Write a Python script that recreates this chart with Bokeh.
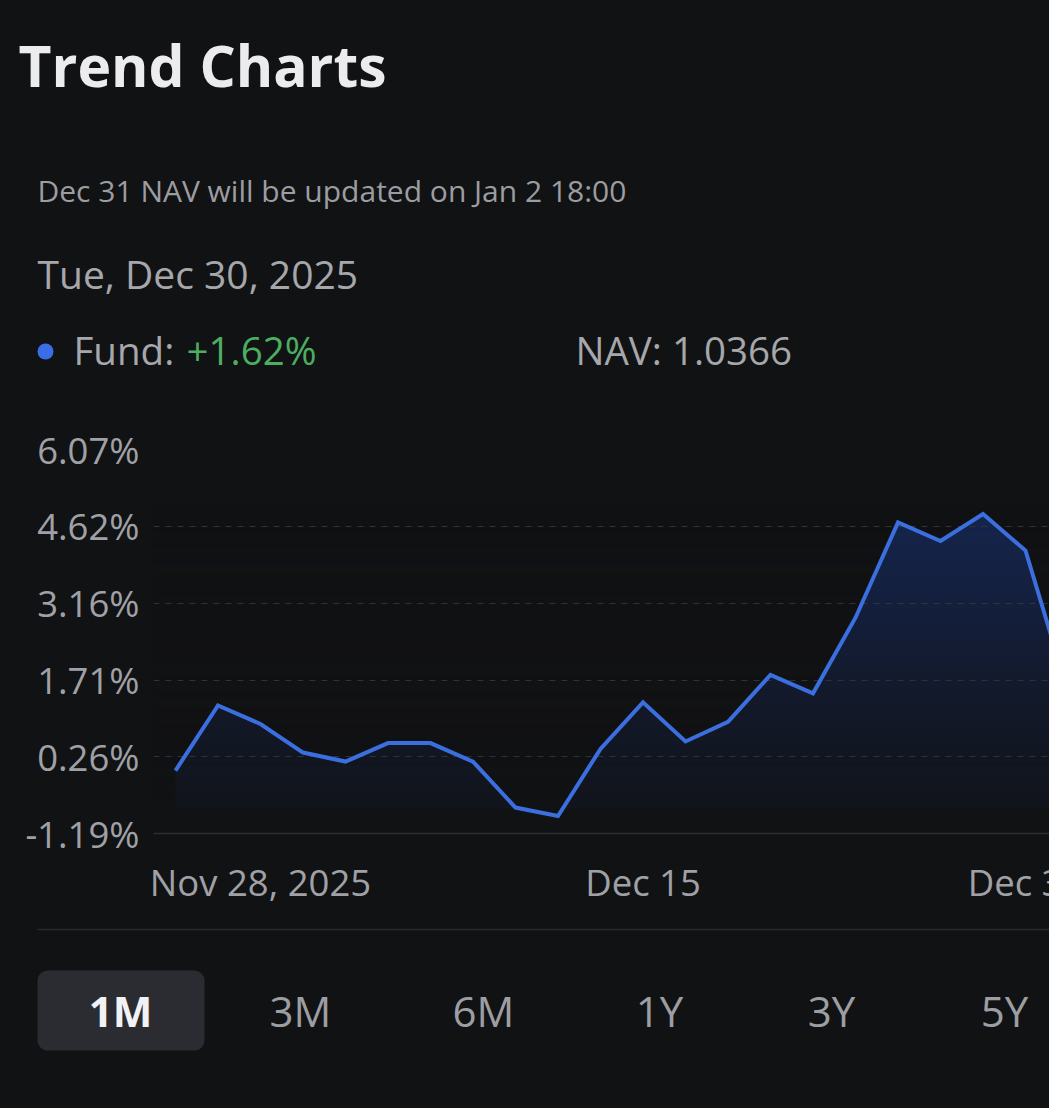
###
# Fund trend chart (1M view), dark mobile style
###
from bokeh.embed import file_html
from bokeh.layouts import column
from bokeh.models import BoxAnnotation, FixedTicker, Label, PrintfTickFormatter, Range1d
from bokeh.plotting import figure
from bokeh.resources import INLINE
from jinja2 import Template

TITLE = "Trend Charts"
NOTICE = "Dec 31 NAV will be updated on Jan 2 18:00"
DATE_TEXT = "Tue, Dec 30, 2025"
FUND_LABEL = "Fund:"
FUND_CHANGE = "+1.62%"
NAV_TEXT = "NAV: 1.0366"
PERIODS = ["1M", "3M", "6M", "1Y", "3Y", "5Y"]

# cumulative return (%) per trading day since Nov 28
FUND_RETURNS = [0.00, 1.23, 0.88, 0.34, 0.17, 0.52, 0.52, 0.17, -0.70, -0.86, 0.41, 1.29,
                0.55, 0.92, 1.81, 1.46, 2.89, 4.69, 4.34, 4.85, 4.16, 1.49, 1.62]
Y_TICKS = [-1.19, 0.26, 1.71, 3.16, 4.62, 6.07]
X_TICKS = [2, 11, 20]
X_TICK_LABELS = ["Nov 28, 2025", "Dec 15", "Dec 30"]

BG = "#111214"
BLUE = "#3b6fe0"
FILL_TOP = "#16264f"
GRID = "#303237"
TEXT = "#a6a7ab"
TICK = "#a0a1a6"
GREEN = "#4cae61"
FONT = "Open Sans"

W = 1049
HEAD_H, CHART_TOP, CHART_BOTTOM = 420, 449, 833
FOOT_TOP = 920
OVERHANG = 60  # chart runs past the right edge of the screen


def panel(height):
    # a plain canvas whose data coords are pixels from its top-left corner
    f = figure(width=W, height=height, output_backend="svg", toolbar_location=None,
               x_range=Range1d(0, W), y_range=Range1d(height, 0),
               x_axis_type=None, y_axis_type=None, min_border=0, frame_align=False,
               background_fill_color=BG, border_fill_color=BG, outline_line_color=None)
    f.grid.visible = False
    return f


def add_text(f, text, x, y, size, color, bold=False, align="left"):
    # y is the baseline; bokeh puts the line box bottom there, so lift by the descent
    f.add_layout(Label(x=x, y=y - 0.41 * size, text=text, text_font=FONT,
                       text_font_size=f"{size}px", text_color=color,
                       text_font_style="bold" if bold else "normal",
                       text_align=align, text_baseline="alphabetic"))


# ---- header ----
head = panel(HEAD_H)
add_text(head, TITLE, 18, 88, 57, "#ececee", bold=True)
add_text(head, NOTICE, 37, 202, 30, "#9c9da1")
add_text(head, DATE_TEXT, 37, 289, 39, TEXT)
head.scatter(x=[45], y=[351], size=16, marker="circle", fill_color="#3a6ee8", line_color=None)
add_text(head, FUND_LABEL, 73, 365, 38.5, TEXT)
add_text(head, FUND_CHANGE, 186, 365, 38.5, GREEN)
add_text(head, NAV_TEXT, 575, 365, 38.5, TEXT)

# ---- chart ----
p = figure(frame_width=896 + OVERHANG, frame_height=CHART_BOTTOM - CHART_TOP, output_backend="svg",
           toolbar_location=None, frame_align=False,
           x_range=Range1d(-22 / 42.5, (874 + OVERHANG) / 42.5),
           y_range=Range1d(Y_TICKS[0], Y_TICKS[-1]),
           min_border_left=153, min_border_right=0, min_border_top=CHART_TOP - HEAD_H,
           min_border_bottom=FOOT_TOP - CHART_BOTTOM,
           background_fill_color=BG, border_fill_color=BG, outline_line_color=None)

idx = list(range(len(FUND_RETURNS)))

# area under the curve, faded towards the bottom with background-coloured bands
p.varea(x=idx, y1=Y_TICKS[0], y2=FUND_RETURNS, fill_color=FILL_TOP, level="image")
fade_top, fade_bottom, steps = 5.0, -0.7, 150
step = (fade_top - fade_bottom) / steps
bottoms = [Y_TICKS[0]] + [fade_bottom + i * step for i in range(steps)]
tops = [fade_bottom] + [fade_bottom + (i + 1) * step for i in range(steps)]
alphas = [1.0] + [1.0 - (i + 0.5) / steps for i in range(steps)]
p.quad(left=p.x_range.start, right=p.x_range.end, bottom=bottoms, top=tops, fill_color=BG,
       fill_alpha=alphas, line_color=None, level="image")

p.line(idx, FUND_RETURNS, line_color=BLUE, line_width=4, line_join="miter")

p.xaxis.ticker = FixedTicker(ticks=X_TICKS)
p.xaxis.major_label_overrides = dict(zip(X_TICKS, X_TICK_LABELS))
p.yaxis.ticker = FixedTicker(ticks=Y_TICKS)
p.yaxis.formatter = PrintfTickFormatter(format="%.2f%%")
for ax in (p.xaxis[0], p.yaxis[0]):
    ax.major_tick_line_color = None
    ax.minor_tick_line_color = None
    ax.major_tick_out = 0
    ax.major_tick_in = 0
    ax.major_label_text_font = FONT
    ax.major_label_text_font_size = "36.5px"
    ax.major_label_text_color = TICK
p.xaxis.axis_line_color = "#2c2e33"
p.xaxis.axis_line_width = 1.5
p.xaxis.major_label_standoff = 23
p.yaxis.axis_line_color = None
p.yaxis.major_label_standoff = 14

p.xgrid.visible = False
p.ygrid.ticker = FixedTicker(ticks=Y_TICKS)
p.ygrid.grid_line_color = GRID
p.ygrid.grid_line_dash = "6 6"
p.ygrid.grid_line_width = 1

# ---- period selector ----
foot = panel(1108 - FOOT_TOP)
foot.add_layout(BoxAnnotation(left=37, right=W, top=929 - FOOT_TOP - 0.75,
                              bottom=929 - FOOT_TOP + 0.75, fill_color="#2a2b30",
                              fill_alpha=1, line_alpha=0))
foot.add_layout(BoxAnnotation(left=37, right=204, top=970 - FOOT_TOP, bottom=1050 - FOOT_TOP,
                              fill_color="#2a2c31", fill_alpha=1, line_alpha=0, border_radius=10))
button_x = [120, 300, 483, 659, 831, 1004]
for i, period in enumerate(PERIODS):
    add_text(foot, period, button_x[i], 1027 - FOOT_TOP, 42, "#f2f2f4" if i == 0 else "#9d9ea2",
             bold=(i == 0), align="center")

layout = column(head, p, foot, spacing=0)

PAGE = Template("""{% extends base %}
{% block postamble %}<style>html, body { background: #111214; margin: 0; overflow: hidden; }</style>{% endblock %}""")

open("out.html", "w").write(file_html(layout, INLINE, TITLE, template=PAGE))
